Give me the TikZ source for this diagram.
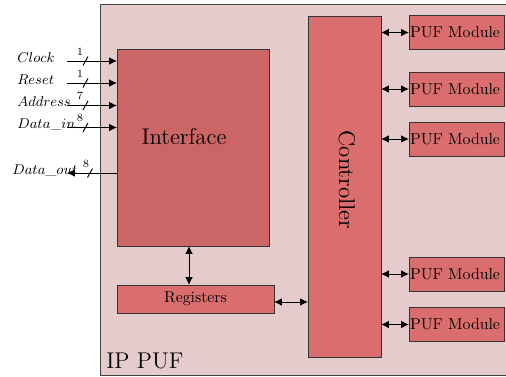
\documentclass[tikz,border=0pt]{standalone}
\usetikzlibrary{arrows.meta,calc}
\definecolor{ipbg}{RGB}{230,203,204}
\definecolor{ifcfill}{RGB}{204,102,102}
\definecolor{blkfill}{RGB}{218,110,110}
\begin{document}
\begin{tikzpicture}[x=0.633pt,y=-0.633pt,
  sz/.style 2 args={minimum width=#1*0.633pt, minimum height=#2*0.633pt},
  box/.style={draw=black!80, line width=0.55pt, fill=blkfill, inner sep=0pt, outer sep=0pt},
  modbox/.style={box, sz={95}{34}, inner xsep=1*0.633pt, text width=93*0.633pt, align=left},
  tip/.style={-{Latex[length=5pt,width=4.8pt]}},
  dtip/.style={{Latex[length=5pt,width=4.8pt]}-{Latex[length=5pt,width=4.8pt]}},
  sig/.style={line width=0.6pt},
  lbl/.style={font=\small, anchor=base west, inner sep=0pt},
  num/.style={font=\scriptsize, inner sep=0pt}]
\useasboundingbox (0,0) rectangle (506,376);
\clip (0,0) rectangle (506,376);

% IP block frame
\node[draw=black!75, fill=ipbg, line width=0.6pt, sz={430}{371}, anchor=north west, inner sep=0pt] (ip) at (100,4) {};
\node[font=\Large, anchor=base west, inner sep=0pt] (iplbl) at (106,368) {IP PUF};

% inner blocks
\node[box, fill=ifcfill, sz={152}{197}] (iface) at (193,147.5) {};
\node[font=\Large, inner sep=0pt] (ifacelbl) at (184,137) {Interface};
\node[box, sz={73}{341}] (ctrl) at (344.5,186.5) {};
\node[font=\Large, rotate=-90, inner sep=0pt] (ctrllbl) at (347,180) {Controller};
\node[box, sz={157}{28}] (reg) at (195.5,299) {Registers};

% PUF modules
\node[modbox] (m1) at (456.5,32.5) {PUF Module};
\node[modbox] (m2) at (456.5,89) {PUF Module};
\node[modbox] (m3) at (456.5,139) {PUF Module};
\node[modbox] (m4) at (456.5,274) {PUF Module};
\node[modbox] (m5) at (456.5,324.5) {PUF Module};

% controller <-> modules
\foreach \m in {m1,m2,m3,m4,m5}
  \draw[sig, dtip] (ctrl.east |- \m) -- (\m.west);

% interface <-> registers <-> controller
\coordinate (vx) at (189,0);
\draw[sig, dtip] (iface.south -| vx) -- (reg.north -| vx);
\coordinate (rg) at ($(reg.east)+(0,3)$);
\draw[sig, dtip] (rg) -- (rg -| ctrl.west);

% external signals
\coordinate (sclk) at (67,61);
\coordinate (srst) at (67,83);
\coordinate (sadr) at (67,105.5);
\coordinate (sdin) at (67,127.5);
\coordinate (sdout) at (67,173);
\draw[sig, tip] (sclk) -- (sclk -| iface.west);
\draw[sig, tip] (srst) -- (srst -| iface.west);
\draw[sig, tip] (sadr) -- (sadr -| iface.west);
\draw[sig, tip] (sdin) -- (sdin -| iface.west);
\draw[sig, tip] (sdout -| iface.west) -- (sdout);

\node[lbl] (lclk) at (17,62) {$Clock$};
\node[lbl] (lrst) at (17,84) {$Reset$};
\node[lbl] (ladr) at (17,106.5) {$Address$};
\node[lbl] (ldin) at (17,128.5) {$Data\_in$};
\node[lbl] (ldout) at (12,174) {$Data\_out$};

% bus width marks
\foreach \y/\w in {61/1,83/1,105.5/7,127.5/8} {
  \draw[sig] (85.5,\y) ++(-2.5,4.5) -- ++(5,-9);
  \node[num] at (80,\y-9.5) {\w};
}
\draw[sig] (90,173) ++(-2.5,4.5) -- ++(5,-9);
\node[num] (wdout) at (86,163.5) {8};
\end{tikzpicture}
\end{document}
